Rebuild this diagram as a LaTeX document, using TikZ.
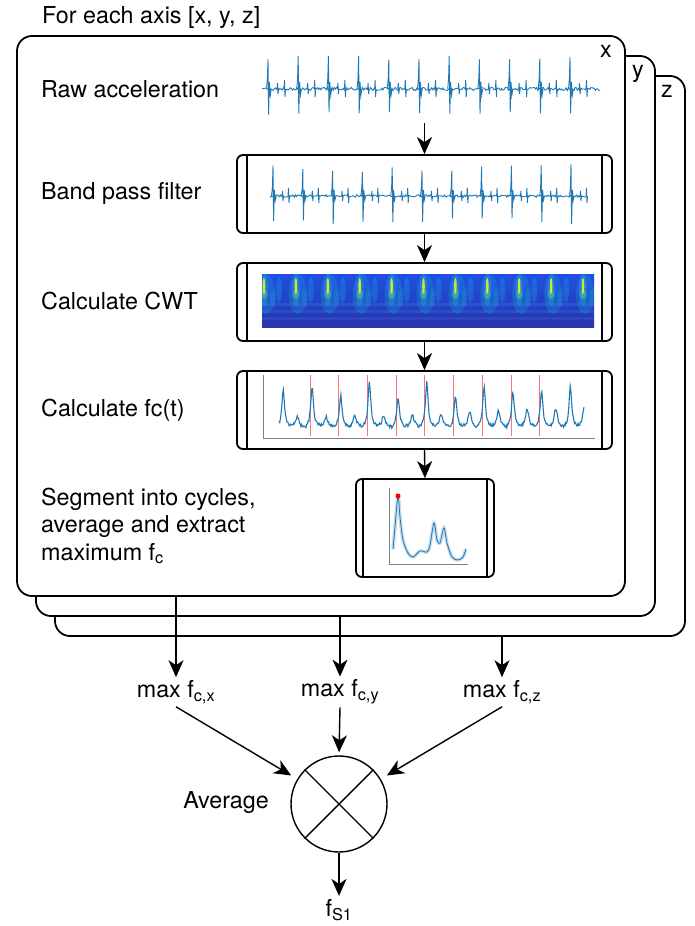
\documentclass[tikz,border=0pt]{standalone}
\usepackage{fontspec}
\setmainfont{TeX Gyre Heros}
\usetikzlibrary{arrows.meta}

\definecolor{sigblue}{RGB}{31,119,180}
\definecolor{cwttop}{RGB}{30,80,228}
\definecolor{cwtbot}{RGB}{40,52,170}
\definecolor{cwtband}{RGB}{60,130,235}
\definecolor{cwtcyan}{RGB}{25,170,215}
\definecolor{cwtgreen}{RGB}{90,195,140}
\definecolor{cwtyellow}{RGB}{240,235,40}

\begin{document}
\begin{tikzpicture}[x=1pt, y=-1pt,
    font=\fontsize{23.3}{27.5}\selectfont,
    frame/.style={draw, line width=1.8pt, rounded corners=15pt, fill=white,
        minimum height=560pt, inner sep=0pt},
    procbox/.style={draw, line width=1.8pt, rounded corners=6pt, minimum height=78pt,
        inner sep=0pt, path picture={
        \draw[line width=1.8pt] ([xshift=#1]path picture bounding box.north west)
            -- ([xshift=#1]path picture bounding box.south west);
        \draw[line width=1.8pt] ([xshift=-#1]path picture bounding box.north east)
            -- ([xshift=-#1]path picture bounding box.south east);}},
    procbox/.default=10pt,
    steplabel/.style={anchor=west, inner sep=0pt, align=left},
    axislabel/.style={anchor=north east, inner sep=0pt},
    maxlabel/.style={inner sep=3pt},
    sig/.style={sigblue, line width=0.9pt},
    arr/.style={-{Stealth[length=17pt, width=15pt, inset=5pt]}, line width=1.4pt},
    axisline/.style={gray, line width=0.9pt}]

    \useasboundingbox (0,0) rectangle (695,926);

    % stacked frames, one per axis
    \node[frame, minimum width=630pt] (fz) at (370,356) {};
    \node[frame, minimum width=619pt] (fy) at (345.5,336) {};
    \node[frame, minimum width=608pt] (fx) at (321,316) {};
    \node[axislabel] (lz) at ([shift={(-13pt,-10pt)}]fz.north east) {z};
    \node[axislabel] (ly) at ([shift={(-12pt,-10pt)}]fy.north east) {y};
    \node[axislabel] (lx) at ([shift={(-14pt,-10pt)}]fx.north east) {x};
    \node[anchor=west, inner sep=0pt] (title) at (42,18) {For each axis [x, y, z]};

    % step labels
    \node[steplabel] (lraw) at (41,89) {Raw acceleration};
    \node[steplabel] (lbpf) at (41,194) {Band pass filter};
    \node[steplabel] (lcwt) at (41,301) {Calculate CWT};
    \node[steplabel] (lfct) at (41,410) {Calculate fc(t)};
    \node[steplabel] (lseg) at (41,526) {Segment into cycles,\\average and extract\\maximum f\textsubscript{c}};

    % process boxes
    \node[minimum width=338pt, minimum height=68pt, inner sep=0pt] (raw) at (431,89) {};
    \node[procbox, minimum width=375pt] (bpf) at (424.5,194) {};
    \node[procbox, minimum width=375pt] (cwt) at (424.5,302) {};
    \node[procbox, minimum width=375pt] (fct) at (424.5,410) {};
    \node[procbox=7pt, minimum width=138pt, minimum height=98pt] (seg) at (425,528) {};

    % raw acceleration trace
    \pgfmathsetseed{11}
    \draw[sig] plot[domain=262:600, samples=300] (\x, {89+1.6*rand});
    \foreach \k in {0,...,10}{
        \pgfmathsetmacro\b{268+30.2*\k}
        \pgfmathsetmacro\t{55+5*rnd}
        \pgfmathsetmacro\d{111+5*rnd}
        \draw[sig] (\b-1.5,89) -- (\b-0.6,78) -- (\b,\t) -- (\b+0.6,\d) -- (\b+1.4,82)
            -- (\b+2.3,95) -- (\b+3.2,89);
        \draw[sig] (\b+9,89) -- (\b+9.5,83) -- (\b+10,94) -- (\b+10.5,89);
        \draw[sig] (\b+16,89) -- (\b+16.5,80) -- (\b+17,97) -- (\b+17.5,89);
    }

    % band pass trace
    \draw[sig] plot[domain=270:586, samples=300] (\x, {196+1.2*rand});
    \foreach \k in {0,...,10}{
        \pgfmathsetmacro\b{273+29.8*\k}
        \pgfmathsetmacro\t{164+8*rnd}
        \pgfmathsetmacro\d{218+6*rnd}
        \draw[sig] (\b-1.5,196) -- (\b-0.6,188) -- (\b,\t) -- (\b+0.6,\d) -- (\b+1.4,190)
            -- (\b+2.3,200) -- (\b+3.2,196);
        \draw[sig] (\b+9,196) -- (\b+9.5,191) -- (\b+10,201) -- (\b+10.5,196);
        \draw[sig] (\b+15,196) -- (\b+15.5,188) -- (\b+16,203) -- (\b+16.5,196);
    }

    % CWT scalogram
    \begin{scope}
        \clip (262,274) rectangle (594,327);
        \shade[top color=cwttop, bottom color=cwtbot] (262,274) rectangle (594,327);
        \foreach \y/\o in {303/0.3, 310/0.25, 317/0.2}
            \fill[cwtband, opacity=\o] (262,\y) rectangle (594,\y+3);
        \foreach \k in {0,...,10}{
            \pgfmathsetmacro\b{264+31.9*\k}
            \fill[cwtcyan, opacity=0.25] (\b+2,294) ellipse [x radius=9pt, y radius=20pt];
            \fill[cwtcyan, opacity=0.4] (\b,290) ellipse [x radius=4pt, y radius=16pt];
            \fill[cwtcyan, opacity=0.3] (\b+15,290) ellipse [x radius=3pt, y radius=13pt];
            \fill[cwtcyan, opacity=0.25] (\b+9,298) ellipse [x radius=3pt, y radius=9pt];
            \fill[cwtgreen, opacity=0.6] (\b,294) ellipse [x radius=3pt, y radius=5pt];
            \fill[cwtyellow, opacity=0.9] (\b,286) ellipse [x radius=1.3pt, y radius=8pt];
        }
    \end{scope}

    % fc(t) trace
    \draw[axisline] (263,375) -- (263,438) -- (595,438);
    \foreach \k in {0,...,8}
        \draw[red!55, line width=0.8pt] (310+28.7*\k,375) -- (310+28.7*\k,436);
    \draw[sig, line width=1.1pt] plot[domain=279:584, samples=420]
        (\x, {428 - (38+8*sin(\x*7))/(1+((mod(\x-248.6,28.7)-6)/1.6)^2)
              - (17+6*sin(\x*13))/(1+((mod(\x-248.6,28.7)-20)/2)^2) + 1.6*rand});

    % averaged cycle
    \draw[axisline] (389,488) -- (389,564) -- (468,564);
    \draw[sigblue, line width=0.8pt, preaction={draw, sigblue!25, line width=3.5pt}]
        plot[smooth] coordinates {(393,549) (395,527) (398,496) (400,517) (403,540)
        (408,553) (413,557) (420,551) (427,552) (430,545) (434,523) (437,540)
        (440,543) (444,528) (447,543) (452,557) (458,560) (463,557) (466,549)};
    \fill[red] (398,496) circle [radius=2.5pt];

    % connectors inside the frame
    \draw[arr] (bpf.north |- raw.south) -- (bpf.north);
    \draw[arr] (bpf.south) -- (cwt.north);
    \draw[arr] (cwt.south) -- (fct.north);
    \draw[arr] (fct.south) -- (seg.north);

    % per-axis outputs
    \node[maxlabel] (mx) at (176,692) {max f\textsubscript{c,x}};
    \node[maxlabel] (my) at (340,692) {max f\textsubscript{c,y}};
    \node[maxlabel] (mz) at (502,692) {max f\textsubscript{c,z}};
    \draw[arr] (fx.south -| mx.north) -- (mx.north);
    \draw[arr] (fy.south -| my.north) -- (my.north);
    \draw[arr] (fz.south -| mz.north) -- (mz.north);

    % averaging
    \node[circle, draw, line width=1.4pt, minimum size=96pt, inner sep=0pt] (avg) at (339,804) {};
    \draw[line width=1.4pt] (avg.45) -- (avg.225) (avg.135) -- (avg.315);
    \node (lavg) at (226,803) {Average};
    \node (fs) at (339,910) {f\textsubscript{S1}};
    \draw[arr, shorten >=7pt] (mx.south) -- (avg);
    \draw[arr, shorten >=3pt] (my.south) -- (avg.north);
    \draw[arr, shorten >=7pt] (mz.south) -- (avg);
    \draw[arr] (avg.south) -- (fs.north);
\end{tikzpicture}
\end{document}
